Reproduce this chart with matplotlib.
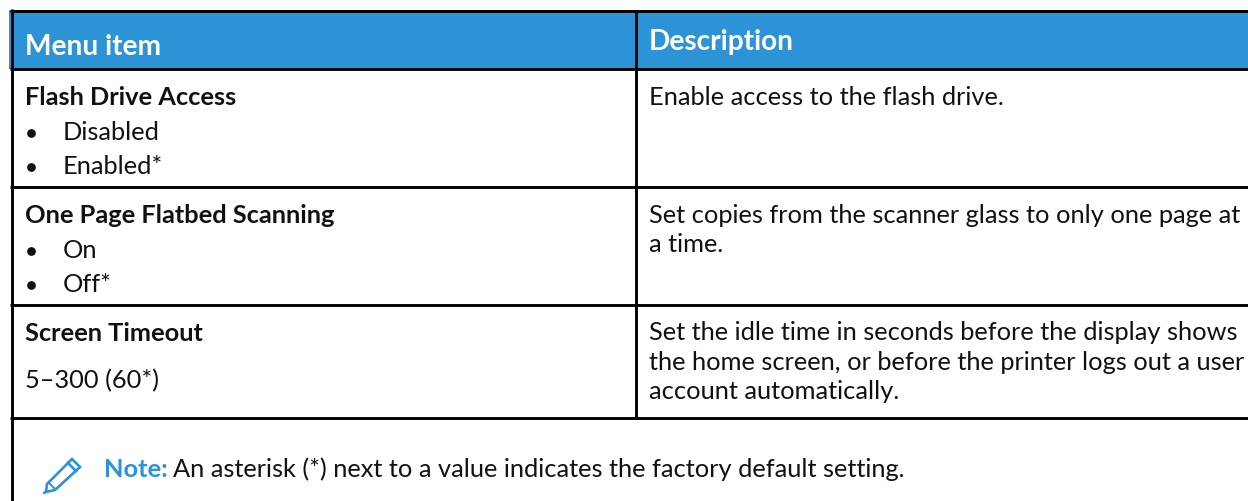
import matplotlib
matplotlib.use("Agg")
import matplotlib.pyplot as plt
from matplotlib.patches import Rectangle, Polygon

W, H = 1248, 501
BLUE = "#2B93D6"
FONT = "Lato"
SIZE = 18.3
HEAD_SIZE = 20.2

headers = ["Menu item", "Description"]
row_titles = ["Flash Drive Access", "One Page Flatbed Scanning", "Screen Timeout"]
row_values = [["Disabled", "Enabled*"], ["On", "Off*"]]
timeout_range = "5–300 (60*)"
descriptions = [
    ["Enable access to the flash drive."],
    ["Set copies from the scanner glass to only one page at", "a time."],
    ["Set the idle time in seconds before the display shows",
     "the home screen, or before the printer logs out a user",
     "account automatically."],
]
note_label = "Note:"
note_text = "An asterisk (*) next to a value indicates the factory default setting."

fig = plt.figure(figsize=(W / 100, H / 100), dpi=100)
ax = fig.add_axes([0, 0, 1, 1])
ax.set_xlim(0, W)
ax.set_ylim(H, 0)
ax.axis("off")

# header band
ax.add_patch(Rectangle((9, 10), W - 9, 59, color=BLUE, lw=0))

# table lines
for y in [10.5, 69, 187, 305, 418]:
    ax.plot([10, W], [y, y], color="black", lw=2.1, solid_capstyle="butt")
ax.plot([11.5, 11.5], [9, H], color="black", lw=2.1, solid_capstyle="butt")
ax.plot([635.5, 635.5], [10, 418], color="black", lw=2.1, solid_capstyle="butt")


def txt(x, y, s, size=SIZE, **kw):
    kw.setdefault("color", "#111111")
    ax.text(x, y, s, family=FONT, fontsize=size, va="baseline", ha="left", **kw)


txt(25, 55, headers[0], size=HEAD_SIZE, color="white", fontweight="bold")
txt(649, 50, headers[1], size=HEAD_SIZE, color="white", fontweight="bold")

# left column
title_y = [105, 223, 341]
for s, y in zip(row_titles, title_y):
    txt(25, y, s, fontweight="bold")

value_y = [[140, 174], [258, 292]]
for vals, ys in zip(row_values, value_y):
    for s, y in zip(vals, ys):
        ax.plot([31], [y - 7], "o", color="#111111", ms=6.3, mew=0)
        txt(63, y, s)
txt(25, 388, timeout_range)

# right column
desc_y = [[105], [223, 252], [340, 370, 399]]
for lines, ys in zip(descriptions, desc_y):
    for s, y in zip(lines, ys):
        txt(649, y, s)

# pencil icon
ax.add_patch(Polygon([(47, 484), (72, 459), (80, 467), (55, 490), (46, 492)],
                     closed=True, fill=False, edgecolor=BLUE, lw=1.9))
ax.plot([68, 76], [463, 471], color=BLUE, lw=1.9)
ax.plot([49, 55], [483, 489], color=BLUE, lw=1.4)
ax.plot([44, 46], [493, 491], color=BLUE, lw=1.6)

# note
txt(104, 477, note_label, color=BLUE, fontweight="bold")
txt(173, 477, note_text)

fig.savefig("out.png", dpi=100)
plt.close()
